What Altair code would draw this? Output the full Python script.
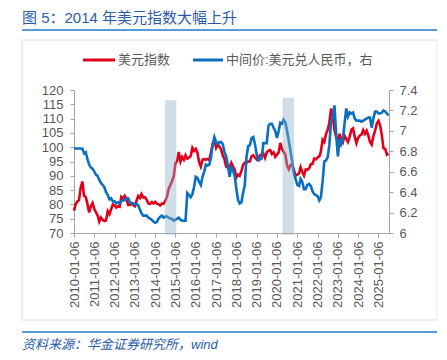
import altair as alt
import pandas as pd

# ---- data (monthly readings, 6th of each month) ----
dxy_2010 = [77.8, 80.2, 80.9, 81.6, 85.8, 88.0, 83.0, 82.6, 80.0, 77.2, 79.4, 80.5]
dxy_2011 = [78.4, 77.2, 76.2, 74.0, 75.4, 74.6, 74.2, 74.4, 77.6, 76.6, 78.4, 80.0]
dxy_2012 = [79.6, 78.9, 79.4, 79.2, 82.6, 82.0, 83.0, 82.0, 79.8, 79.8, 80.4, 79.8]
dxy_2013 = [79.4, 81.4, 82.9, 82.2, 83.6, 82.4, 82.5, 81.6, 80.3, 80.2, 80.8, 80.3]
dxy_2014 = [80.9, 80.2, 80.1, 79.6, 80.3, 80.2, 81.2, 82.7, 85.5, 86.8, 88.2, 89.9]
dxy_2015 = [94.5, 95.2, 98.3, 95.0, 96.6, 95.6, 97.2, 96.0, 96.3, 96.9, 99.8, 98.7]
dxy_2016 = [99.4, 98.0, 94.8, 93.2, 95.6, 95.8, 95.6, 95.9, 95.5, 98.2, 101.2, 102.6]
dxy_2017 = [99.8, 101.0, 100.3, 99.2, 97.1, 95.8, 93.2, 92.8, 93.0, 94.5, 93.2, 92.2]
dxy_2018 = [89.4, 90.4, 90.0, 91.6, 93.8, 94.6, 94.5, 95.0, 95.0, 96.8, 97.2, 96.4]
dxy_2019 = [95.7, 96.2, 97.2, 97.5, 97.8, 96.3, 98.2, 98.8, 99.0, 97.6, 98.2, 96.6]
dxy_2020 = [97.4, 98.2, 101.5, 99.4, 98.4, 97.3, 93.6, 92.3, 93.8, 93.9, 92.0, 90.0]
dxy_2021 = [90.4, 90.8, 93.0, 91.4, 90.1, 92.2, 92.1, 92.6, 94.1, 94.1, 96.0, 95.8]
dxy_2022 = [96.4, 96.8, 98.4, 102.6, 101.8, 104.6, 106.0, 108.6, 113.5, 110.9, 106.0, 103.6]
dxy_2023 = [102.2, 104.7, 102.6, 101.7, 104.1, 102.9, 101.8, 103.6, 106.1, 106.6, 103.6, 101.4]
dxy_2024 = [103.3, 104.1, 104.4, 106.0, 104.7, 105.8, 104.2, 101.8, 100.9, 103.9, 105.8, 108.3]
dxy_2025 = [109.2, 107.5, 104.3, 99.6, 99.4, 97.4, 97.8]

cny_2010 = [6.827, 6.827, 6.827, 6.827, 6.827, 6.826, 6.78, 6.79, 6.72, 6.67, 6.64, 6.63]
cny_2011 = [6.60, 6.57, 6.56, 6.52, 6.49, 6.47, 6.45, 6.40, 6.37, 6.33, 6.34, 6.31]
cny_2012 = [6.31, 6.29, 6.30, 6.29, 6.31, 6.32, 6.32, 6.34, 6.34, 6.30, 6.29, 6.29]
cny_2013 = [6.28, 6.28, 6.27, 6.23, 6.19, 6.17, 6.17, 6.17, 6.15, 6.14, 6.13, 6.11]
cny_2014 = [6.10, 6.11, 6.14, 6.16, 6.17, 6.15, 6.16, 6.16, 6.15, 6.14, 6.14, 6.12]
cny_2015 = [6.13, 6.14, 6.15, 6.13, 6.12, 6.12, 6.12, 6.39, 6.37, 6.35, 6.38, 6.45]
cny_2016 = [6.55, 6.54, 6.50, 6.47, 6.55, 6.60, 6.67, 6.66, 6.67, 6.74, 6.87, 6.94]
cny_2017 = [6.89, 6.87, 6.89, 6.89, 6.87, 6.79, 6.75, 6.66, 6.55, 6.64, 6.61, 6.56]
cny_2018 = [6.43, 6.32, 6.29, 6.30, 6.39, 6.47, 6.74, 6.85, 6.86, 6.93, 6.94, 6.87]
cny_2019 = [6.77, 6.71, 6.72, 6.73, 6.88, 6.88, 6.88, 7.05, 7.07, 7.07, 7.03, 7.00]
cny_2020 = [6.93, 7.00, 7.08, 7.07, 7.11, 7.08, 7.00, 6.90, 6.80, 6.70, 6.58, 6.53]
cny_2021 = [6.47, 6.46, 6.53, 6.50, 6.43, 6.43, 6.47, 6.48, 6.46, 6.41, 6.38, 6.37]
cny_2022 = [6.36, 6.32, 6.35, 6.50, 6.70, 6.71, 6.74, 6.86, 7.10, 7.13, 7.25, 6.97]
cny_2023 = [6.75, 6.92, 6.87, 6.92, 7.07, 7.22, 7.14, 7.18, 7.17, 7.18, 7.12, 7.10]
cny_2024 = [7.10, 7.10, 7.09, 7.10, 7.11, 7.12, 7.13, 7.13, 7.03, 7.12, 7.19, 7.19]
cny_2025 = [7.17, 7.17, 7.18, 7.20, 7.19, 7.17, 7.15]

shade_start = ["2014-07-01T00:00:00", "2020-04-17T00:00:00"]
shade_end = ["2015-01-22T00:00:00", "2020-11-07T00:00:00"]
shade_low = [69.4, 69.4]
shade_high = [116.4, 117.3]

tick_years = list(range(2010, 2026))
left_ticks = [70, 75, 80, 85, 90, 95, 100, 105, 110, 115, 120]
right_ticks = [6, 6.2, 6.4, 6.6, 6.8, 7, 7.2, 7.4]

title_text = "图 5：2014 年美元指数大幅上升"
legend_red = "美元指数"
legend_blue = "中间价:美元兑人民币，右"
source_text = "资料来源：华金证券研究所，wind"

# ---- tables ----
dxy = (dxy_2010 + dxy_2011 + dxy_2012 + dxy_2013 + dxy_2014 + dxy_2015 + dxy_2016 +
       dxy_2017 + dxy_2018 + dxy_2019 + dxy_2020 + dxy_2021 + dxy_2022 + dxy_2023 +
       dxy_2024 + dxy_2025)
cny = (cny_2010 + cny_2011 + cny_2012 + cny_2013 + cny_2014 + cny_2015 + cny_2016 +
       cny_2017 + cny_2018 + cny_2019 + cny_2020 + cny_2021 + cny_2022 + cny_2023 +
       cny_2024 + cny_2025)
dates = pd.date_range("2010-01-01", periods=len(dxy), freq="MS") + pd.Timedelta(days=5)
df = pd.DataFrame({"date": dates.strftime("%Y-%m-%dT00:00:00"), "dxy": dxy, "cny": cny})
shade_df = pd.DataFrame({"start": shade_start, "end": shade_end,
                         "lo": shade_low, "hi": shade_high})
one = pd.DataFrame({"k": [0]})

RED = "#E0001B"
BLUE = "#0A6FC2"
GRAY = "#595959"
AX = "#A6A6A6"
NAVY = "#2A5CAA"
LBLUE = "#5B9BD5"
LAT = "Liberation Sans, Arial, Noto Sans CJK SC"
CJK = "Liberation Sans, Noto Sans CJK SC"

xscale = alt.Scale(domain=[alt.DateTime(year=2010, month=1, date=6),
                           alt.DateTime(year=2025, month=7, date=14)], nice=False)
xaxis = alt.Axis(values=[alt.DateTime(year=y, month=1, date=6) for y in tick_years],
                 format="%Y-%m-%d", labelAngle=-90, title=None, grid=False,
                 labelOverlap=False, labelFlush=False, labelBound=False,
                 tickSize=4, labelPadding=4, domainColor=AX, tickColor=AX,
                 labelColor=GRAY, labelFontSize=13, labelFont=LAT)

red = alt.Chart(df).mark_line(color=RED, strokeWidth=2.6).encode(
    x=alt.X("date:T", scale=xscale, axis=xaxis),
    y=alt.Y("dxy:Q", scale=alt.Scale(domain=[70, 120], nice=False, zero=False),
            axis=alt.Axis(values=left_ticks, orient="left", title=None, grid=False,
                          tickSize=4, labelPadding=7, domainColor=AX, tickColor=AX,
                          labelColor=GRAY, labelFontSize=13, labelFont=LAT)),
)

blue = alt.Chart(df).mark_line(color=BLUE, strokeWidth=2.6).encode(
    x=alt.X("date:T", scale=xscale, axis=xaxis),
    y=alt.Y("cny:Q", scale=alt.Scale(domain=[6, 7.4], nice=False, zero=False),
            axis=alt.Axis(values=right_ticks, orient="right", title=None, grid=False,
                          format="~g",
                          tickSize=4, labelPadding=6, domainColor=AX, tickColor=AX,
                          labelColor=GRAY, labelFontSize=13, labelFont=LAT)),
)

shade = alt.Chart(shade_df).mark_rect(color="#8FB1C5", opacity=0.42).encode(
    x=alt.X("start:T", scale=xscale, axis=xaxis),
    x2="end:T",
    y=alt.Y("lo:Q", scale=alt.Scale(domain=[70, 120], nice=False, zero=False), axis=None),
    y2="hi:Q",
)

# ---- decorations (positions relative to plot origin) ----
title = alt.Chart(one).mark_text(align="left", baseline="middle", fontSize=15,
                                 font=CJK, color=NAVY).encode(
    x=alt.value(-52), y=alt.value(-72), text=alt.value(title_text))
title_rule = alt.Chart(one).mark_rule(color=LBLUE, strokeWidth=2).encode(
    x=alt.value(-52), x2=alt.value(363), y=alt.value(-60))
frame = alt.Chart(one).mark_rect(fillOpacity=0, stroke="#DCDCDC", strokeWidth=1).encode(
    x=alt.value(-52), x2=alt.value(363), y=alt.value(-50), y2=alt.value(230))
foot_rule = alt.Chart(one).mark_rule(color=LBLUE, strokeWidth=2).encode(
    x=alt.value(-52), x2=alt.value(363), y=alt.value(242))
source = alt.Chart(one).mark_text(align="left", baseline="middle", fontSize=13,
                                  font=CJK, color=NAVY, fontStyle="italic").encode(
    x=alt.value(-52), y=alt.value(255), text=alt.value(source_text))

leg_red_line = alt.Chart(one).mark_rule(color=RED, strokeWidth=3).encode(
    x=alt.value(9), x2=alt.value(41), y=alt.value(-30))
leg_red_text = alt.Chart(one).mark_text(align="left", baseline="middle", fontSize=13,
                                        font=CJK, color=GRAY).encode(
    x=alt.value(44), y=alt.value(-30), text=alt.value(legend_red))
leg_blue_line = alt.Chart(one).mark_rule(color=BLUE, strokeWidth=3).encode(
    x=alt.value(119), x2=alt.value(149), y=alt.value(-30))
leg_blue_text = alt.Chart(one).mark_text(align="left", baseline="middle", fontSize=13,
                                         font=CJK, color=GRAY).encode(
    x=alt.value(152), y=alt.value(-30), text=alt.value(legend_blue))

chart = alt.layer(
    frame, red, blue, shade, title, title_rule, foot_rule, source,
    leg_red_line, leg_red_text, leg_blue_line, leg_blue_text,
).resolve_scale(y="independent").properties(
    width=315, height=143,
    autosize=alt.AutoSizeParams(type="none"),
    padding={"left": 66, "top": 82, "right": 48, "bottom": 123},
    background="white",
).configure_view(stroke=None)

chart.save("out.html", embed_options={"renderer": "svg", "actions": False})
